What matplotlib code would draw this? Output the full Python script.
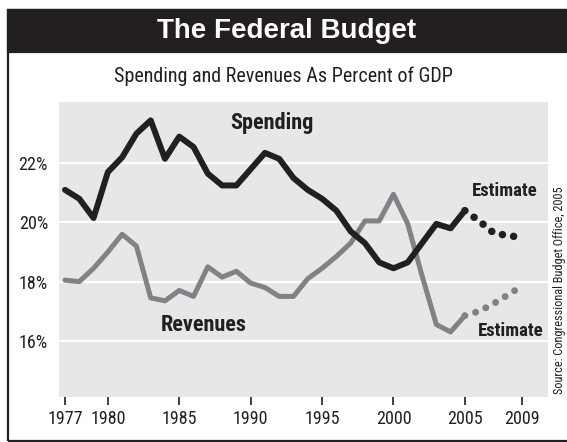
# Federal budget chart - spending and revenues as percent of GDP
# Redrawn with matplotlib from a printed figure

import numpy as np
import matplotlib.pyplot as plt
from matplotlib.patches import Rectangle
from matplotlib import font_manager

#############
#DEFINE VARS
#############
fs=13 # font size for the tick labels
label_fs=16 # font size for the Spending / Revenues labels

#pick a condensed face if the box has one
installed = {f.name for f in font_manager.fontManager.ttflist}
wanted = ['Liberation Sans Narrow', 'DejaVu Sans Condensed', 'Roboto Condensed',
          'Open Sans Condensed', 'Noto Sans Condensed', 'Roboto', 'Liberation Sans']
narrow_name = [n for n in wanted if n in installed][0]
narrow=[narrow_name,'DejaVu Sans']

black='#231f20'
grey='#808285'
panel='#e6e7e8'

##############
#The data
##############
years = list(range(1977, 2006))
spending = [21.1, 20.8, 20.15, 21.7, 22.2, 23.0, 23.45, 22.15, 22.9, 22.55,
            21.65, 21.25, 21.25, 21.8, 22.35, 22.15, 21.5, 21.1, 20.8, 20.4,
            19.7, 19.3, 18.65, 18.45, 18.65, 19.3, 19.95, 19.8, 20.4]
revenues = [18.05, 18.0, 18.45, 19.0, 19.6, 19.2, 17.45, 17.35, 17.7, 17.5,
            18.5, 18.15, 18.35, 17.95, 17.8, 17.5, 17.5, 18.1, 18.45, 18.85,
            19.3, 20.05, 20.05, 20.95, 19.95, 18.2, 16.55, 16.3, 16.85]

#CBO estimates
est_years = [2005, 2006, 2007, 2008, 2009]
spending_est = [20.4, 20.05, 19.65, 19.55, 19.5]
revenues_est = [16.85, 17.0, 17.25, 17.55, 17.85]

xticks = [1977, 1980, 1985, 1990, 1995, 2000, 2005, 2009]
yticks = [16, 18, 20, 22]
ytick_labels = ['16%', '18%', '20%', '22%']

##############
#Figure + frame
##############
W, H = 567, 442
fig = plt.figure(figsize=(W/100, H/100), dpi=100)

#outer frame (right side runs off the picture)
fig.patches.append(Rectangle((8/W, 1.5/H), 1.0, 1-11.5/H, transform=fig.transFigure,
                             fill=False, edgecolor=black, linewidth=1.6))
#black title bar
fig.patches.append(Rectangle((8/W, 1-52/H), 1.0, 42/H, transform=fig.transFigure,
                             facecolor=black, edgecolor=black, linewidth=1.6))
fig.text(287/W, 1-31/H, 'The Federal Budget', color='white', fontsize=20,
         fontweight='bold', family=['Liberation Sans', 'DejaVu Sans'],
         ha='center', va='center')
fig.text(283/W, 1-76/H, 'Spending and Revenues As Percent of GDP', color=black,
         fontsize=14.5, family=narrow, ha='center', va='center')

##############
#The plot
##############
ax = fig.add_axes([59/W, 1-397/H, (548-59)/W, (397-102)/H])
ax.set_facecolor(panel)
for s in ax.spines.values():
    s.set_visible(False)

for y in yticks:
    ax.axhline(y, color='white', linewidth=1.6, zorder=1)

ax.plot(years, spending, color=black, linewidth=4.3, solid_capstyle='round',
        solid_joinstyle='round', zorder=3)
ax.plot(years, revenues, color=grey, linewidth=3.6, solid_capstyle='round',
        solid_joinstyle='round', zorder=2)
ax.plot(est_years, spending_est, color=black, linewidth=5.4, linestyle=(0, (0.01, 1.5)),
        dash_capstyle='round', zorder=3)
ax.plot(est_years, revenues_est, color=grey, linewidth=5.0, linestyle=(0, (0.01, 1.6)),
        dash_capstyle='round', zorder=2)

ax.set_xlim(1976.58, 2010.82)
ax.set_ylim(14.1, 24.07)

ax.set_xticks(xticks)
ax.set_xticklabels([str(x) for x in xticks], fontsize=fs, family=narrow, color=black)
ax.set_yticks(yticks)
ax.set_yticklabels(ytick_labels, fontsize=fs, family=narrow, color=black)
ax.tick_params(axis='x', direction='out', length=6, width=1.2, color=black, pad=3)
ax.tick_params(axis='y', length=0, pad=8)

#labels on the lines
ax.text(272/W, 1-123/H, 'Spending', transform=fig.transFigure, fontsize=label_fs,
        fontweight='bold', family=narrow, color=black, ha='center', va='center')
ax.text(204/W, 1-325/H, 'Revenues', transform=fig.transFigure, fontsize=label_fs,
        fontweight='bold', family=narrow, color=black, ha='center', va='center')
ax.text(505/W, 1-191/H, 'Estimate', transform=fig.transFigure, fontsize=13.5,
        fontweight='bold', family=narrow, color=black, ha='center', va='center')
ax.text(511/W, 1-331/H, 'Estimate', transform=fig.transFigure, fontsize=13.5,
        fontweight='bold', family=narrow, color=black, ha='center', va='center')

fig.text(560/W, 1-290/H, 'Source: Congressional Budget Office, 2005', rotation=90,
         fontsize=8.8, family=narrow, color=black, ha='center', va='center')

plt.savefig('out.png', dpi=100)
